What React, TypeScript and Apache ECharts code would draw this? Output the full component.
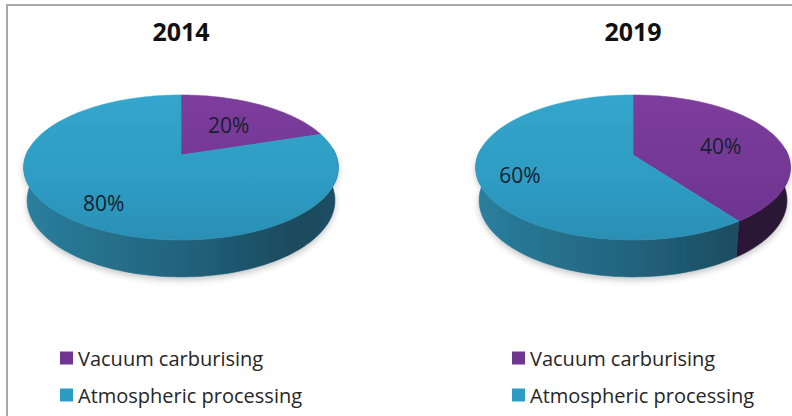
import React, { useEffect, useRef } from 'react';
import * as echarts from 'echarts';

// ---- data ----
const years = ['2014', '2019'];
const categories = ['Vacuum carburising', 'Atmospheric processing'];
const vacuumShare = [20, 40];
const atmosphericShare = [80, 60];

// ---- styling / layout ----
const legendColors = ['#6f3590', '#2d9cc4'];
const topStops = [
  [[0, '#7d3d9c'], [1, '#6c338f']],
  [[0, '#34a5cc'], [0.6, '#2e9cc3'], [1, '#2a8fb4']],
];
const wallStops = [
  [[0, '#56296b'], [0.5, '#3f2250'], [0.85, '#2c1636'], [1, '#2a1534']],
  [[0, '#2a7f9e'], [0.5, '#22637d'], [0.85, '#1a4b5f'], [1, '#1b4e63']],
];
const pieCenters = [[181, 155], [633, 155]];
const F = 801;
const D = 5.17;
const SIN = 0.454;
const COS = 0.891;
const THICK = 0.24;
const LABEL_R = 0.68;

function project(cx: number, cy: number, u: number, v: number, d: number): number[] {
  const y = v * SIN - d * COS;
  const z = D + v * COS + d * SIN;
  return [cx + (F * u) / z, cy - (F * y) / z];
}

function arc(cx: number, cy: number, from: number, to: number, d: number): number[][] {
  const n = Math.max(2, Math.ceil(Math.abs(to - from) / 1.5));
  const pts: number[][] = [];
  for (let i = 0; i <= n; i++) {
    const a = ((from + ((to - from) * i) / n) * Math.PI) / 180;
    pts.push(project(cx, cy, Math.cos(a), Math.sin(a), d));
  }
  return pts;
}

function grad(x: number, y: number, x2: number, y2: number, stops: any[]) {
  return {
    type: 'linear',
    x,
    y,
    x2,
    y2,
    global: true,
    colorStops: stops.map((s: any) => ({ offset: s[0], color: s[1] })),
  };
}

function buildSeries(pieIdx: number, catIdx: number) {
  const values = [vacuumShare[pieIdx], atmosphericShare[pieIdx]];
  const total = values.reduce((a, b) => a + b, 0);
  const cumStart = values.slice(0, catIdx).reduce((a, b) => a + b, 0);
  const [cx, cy] = pieCenters[pieIdx];
  return {
    type: 'custom',
    name: categories[catIdx],
    coordinateSystem: 'none',
    itemStyle: { color: legendColors[catIdx] },
    data: [[values[catIdx], cumStart, total]],
    renderItem: (_params: any, api: any) => {
      const val = api.value(0);
      const s = api.value(1);
      const t = api.value(2);
      const a0 = 90 - (360 * s) / t;
      const a1 = a0 - (360 * val) / t;
      const children: any[] = [];
      // front wall
      const hi = Math.min(a0, 5);
      const lo = Math.max(a1, -185);
      if (lo < hi) {
        const top = arc(cx, cy, hi, lo, 0);
        const bot = arc(cx, cy, lo, hi, THICK);
        const fill = grad(cx - 160, 0, cx + 160, 0, wallStops[catIdx]);
        children.push({
          type: 'polygon',
          z2: 10,
          shape: { points: top.concat(bot) },
          style: {
            fill,
            stroke: fill,
            lineWidth: 0.6,
            shadowColor: 'rgba(0,0,0,0.22)',
            shadowBlur: 6,
            shadowOffsetY: 3,
          },
        });
      }
      // top face
      const topFill = grad(0, cy - 60, 0, cy + 85, topStops[catIdx]);
      const pts = [project(cx, cy, 0, 0, 0)].concat(arc(cx, cy, a0, a1, 0));
      children.push({
        type: 'polygon',
        z2: 20,
        shape: { points: pts },
        style: { fill: topFill, stroke: topFill, lineWidth: 0.6 },
      });
      // label
      const mid = (((a0 + a1) / 2) * Math.PI) / 180;
      const lp = project(cx, cy, LABEL_R * Math.cos(mid), LABEL_R * Math.sin(mid), 0);
      children.push({
        type: 'text',
        z2: 30,
        x: lp[0] - 9,
        y: lp[1] + 5,
        style: {
          text: val + '%',
          fill: '#15202c',
          font: '21px "Open Sans"',
          textAlign: 'center',
          textVerticalAlign: 'middle',
        },
      });
      return { type: 'group', children };
    },
  };
}

export default function App() {
  const ref = useRef<HTMLDivElement>(null);
  useEffect(() => {
    document.body.style.margin = '0';
    if (!ref.current) return;
    const chart = echarts.init(ref.current, undefined, { renderer: 'svg' });
    const series: any[] = [];
    for (let p = 0; p < years.length; p++) {
      for (let c = 0; c < categories.length; c++) series.push(buildSeries(p, c));
    }
    chart.setOption({
      animation: false,
      backgroundColor: '#ffffff',
      title: years.map((y, i) => ({
        text: y,
        left: pieCenters[i][0],
        top: 18,
        padding: 0,
        textAlign: 'center',
        textStyle: { fontFamily: 'Open Sans', fontWeight: 'bold', fontSize: 25, color: '#111111' },
      })),
      legend: [60, 512].map((x) => ({
        data: categories,
        orient: 'vertical',
        left: x,
        top: 346,
        padding: 0,
        icon: 'rect',
        itemWidth: 13,
        itemHeight: 13,
        itemGap: 13,
        selectedMode: false,
        textStyle: { fontFamily: 'Open Sans', fontSize: 20, color: '#262626', lineHeight: 24 },
      })),
      graphic: [
        { type: 'line', shape: { x1: 6, y1: 5, x2: 792, y2: 5 }, style: { stroke: '#a9a9a9', lineWidth: 2 } },
        { type: 'line', shape: { x1: 7, y1: 4, x2: 7, y2: 416 }, style: { stroke: '#a9a9a9', lineWidth: 2 } },
      ],
      series,
    });
    return () => chart.dispose();
  }, []);
  return <div ref={ref} style={{ width: 792, height: 416 }} />;
}
